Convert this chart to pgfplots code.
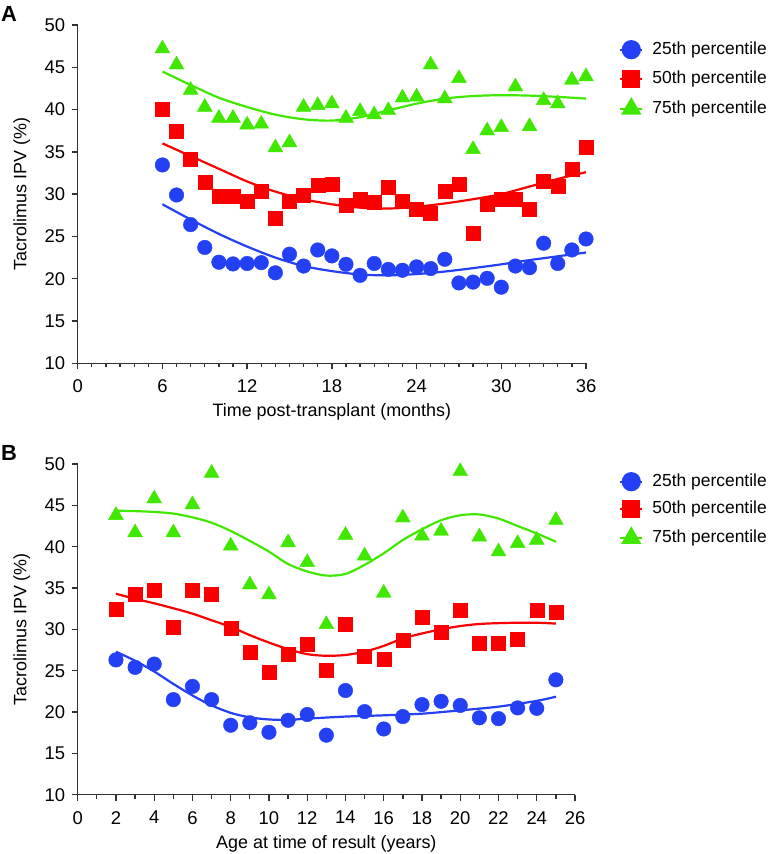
\documentclass[border=0pt]{standalone}
\usepackage{fontspec}
\setmainfont{Liberation Sans}
\usepackage{pgfplots}
\pgfplotsset{compat=1.18}
\definecolor{cB}{RGB}{36,64,245}
\definecolor{cR}{RGB}{250,0,0}
\definecolor{cG}{RGB}{64,232,0}
\definecolor{axc}{RGB}{50,50,50}
\pgfplotsset{
 myaxis/.style={
  scale only axis, clip=false, enlargelimits=false,
  axis x line*=bottom, axis y line*=left,
  axis line style={axc, line width=1.3bp},
  every tick/.style={axc, line width=1.3bp},
  major tick length=6bp, minor tick length=4bp,
  tick align=outside,
  ymin=10, ymax=50, ytick={10,15,...,50},
  /pgf/number format/assume math mode=true,
  ticklabel style={font=\fontsize{18.5}{20}\selectfont, text=black},
  label style={font=\fontsize{18}{20}\selectfont},
  ylabel={Tacrolimus IPV (\%)},
  ylabel style={at={([xshift=-56bp]axis description cs:0,0.5)}, anchor=center},
  xlabel style={at={([yshift=-48.8bp]axis description cs:0.5,0)}, anchor=center},
  xticklabel style={yshift=-7bp},
  yticklabel style={xshift=-3bp},
  legend style={draw=none, fill=none, anchor=north west, at={(1,1)},
    font=\fontsize{17.5}{20}\selectfont, column sep=9bp, inner sep=0pt,
    nodes={inner sep=0pt, text height=12.5bp, text depth=3.5bp}},
  legend cell align=left,
  legend image code/.code={\draw[mark repeat=2,mark phase=2,##1] plot coordinates {(0bp,0bp) (11bp,0bp) (22bp,0bp)};},
  fitline/.style={line width=2.2bp, smooth, no marks, forget plot},
  pB/.style={only marks, mark=*, mark size=7.3bp, cB, forget plot},
  pR/.style={only marks, mark=square*, mark size=7bp, cR, forget plot},
  pG/.style={only marks, mark=triangle*, mark size=8.6bp, cG, forget plot},
 }
}
\begin{document}
\begin{tikzpicture}
\useasboundingbox (0,0) rectangle (769bp,854bp);
\node[font=\bfseries\fontsize{22}{24}\selectfont] at (9bp,840.5bp) {A};
\node[font=\bfseries\fontsize{22}{24}\selectfont] at (9bp,401.5bp) {B};
% Panel A
\begin{axis}[myaxis, at={(77.7bp,490.7bp)}, anchor=south west,
  width=508.3bp, height=338.3bp,
  xmin=0, xmax=36, xtick={0,6,...,36}, minor x tick num=5,
  xlabel={Time post-transplant (months)},
  legend style={xshift=33bp, yshift=-16bp, row sep=12.5bp}]
\addplot[fitline, cG] coordinates {(6,44.5) (8,42.9) (10,41.4) (12,40.3) (14,39.4) (16,38.85) (18,38.7) (20,39.1) (22,39.9) (24,40.7) (26,41.3) (28,41.6) (30,41.7) (32,41.65) (34,41.5) (36,41.3)};
\addplot[fitline, cR] coordinates {(6,36.0) (8,34.5) (10,33.0) (12,31.5) (14,30.3) (16,29.4) (18,28.8) (20,28.4) (22,28.3) (24,28.5) (26,28.9) (28,29.4) (30,30.0) (32,30.9) (34,31.8) (36,32.6)};
\addplot[fitline, cB] coordinates {(6,28.8) (8,27.0) (10,25.3) (12,23.8) (14,22.5) (16,21.5) (18,20.9) (20,20.5) (22,20.4) (24,20.55) (26,20.85) (28,21.25) (30,21.7) (32,22.2) (34,22.65) (36,23.1)};
\addplot[pB] coordinates {(6,33.45) (7,29.9) (8,26.4) (9,23.7) (10,21.95) (11,21.75) (12,21.8) (13,21.9) (14,20.7) (15,22.9) (16,21.5) (17,23.4) (18,22.7) (19,21.7) (20,20.4) (21,21.8) (22,21.1) (23,21.0) (24,21.4) (25,21.2) (26,22.3) (27,19.5) (28,19.6) (29,20.05) (30,19.0) (31,21.5) (32,21.3) (33,24.2) (34,21.8) (35,23.4) (36,24.7)};
\addplot[pR] coordinates {(6,40.0) (7,37.4) (8,34.1) (9,31.4) (10,29.7) (11,29.7) (12,29.2) (13,30.3) (14,27.1) (15,29.2) (16,29.9) (17,31.0) (18,31.2) (19,28.7) (20,29.4) (21,29.1) (22,30.8) (23,29.2) (24,28.2) (25,27.7) (26,30.3) (27,31.2) (28,25.4) (29,28.8) (30,29.4) (31,29.4) (32,28.2) (33,31.5) (34,30.9) (35,33.0) (36,35.5)};
\addplot[pG] coordinates {(6,47.2) (7,45.3) (8,42.3) (9,40.3) (10,39.0) (11,39.0) (12,38.2) (13,38.3) (14,35.5) (15,36.1) (16,40.3) (17,40.5) (18,40.7) (19,39.0) (20,39.8) (21,39.4) (22,39.9) (23,41.4) (24,41.5) (25,45.3) (26,41.3) (27,43.7) (28,35.3) (29,37.5) (30,37.9) (31,42.7) (32,38.0) (33,41.1) (34,40.7) (35,43.5) (36,43.9)};
\addlegendimage{cB, line width=2.2bp, mark=*, mark size=8.5bp}
\addlegendentry{25th percentile}
\addlegendimage{cR, line width=2.2bp, mark=square*, mark size=8bp}
\addlegendentry{50th percentile}
\addlegendimage{cG, line width=2.2bp, mark=triangle*, mark size=9.5bp}
\addlegendentry{75th percentile}
\end{axis}
% Panel B
\begin{axis}[myaxis, at={(77.7bp,59.3bp)}, anchor=south west,
  width=497.3bp, height=330.7bp,
  xmin=0, xmax=26, xtick={0,2,...,26}, minor x tick num=1,
  xlabel={Age at time of result (years)},
  legend style={xshift=44bp, yshift=-9bp, row sep=11.2bp}]
\addplot[fitline, cG] coordinates {(2,44.35) (3,44.3) (4,44.2) (5,44.0) (6,43.55) (7,42.9) (8,41.9) (9,40.7) (10,39.4) (11,37.9) (12,37.0) (13,36.5) (14,36.7) (15,37.8) (16,39.2) (17,40.8) (18,42.1) (19,43.2) (20,43.8) (21,43.9) (22,43.4) (23,42.5) (24,41.6) (25,40.6)};
\addplot[fitline, cR] coordinates {(2,34.3) (3,33.7) (4,33.15) (5,32.55) (6,31.9) (7,31.1) (8,30.3) (9,29.3) (10,28.4) (11,27.6) (12,27.0) (13,26.8) (14,26.9) (15,27.3) (16,28.0) (17,28.9) (18,29.5) (19,30.0) (20,30.4) (21,30.65) (22,30.75) (23,30.8) (24,30.8) (25,30.7)};
\addplot[fitline, cB] coordinates {(2,27.3) (3,26.2) (4,24.9) (5,23.4) (6,22.0) (7,20.8) (8,19.9) (9,19.35) (10,19.1) (11,19.05) (12,19.2) (14,19.45) (16,19.6) (18,19.8) (20,20.2) (22,20.65) (24,21.35) (25,21.85)};
\addplot[pB] coordinates {(2,26.3) (3,25.4) (4,25.8) (5,21.5) (6,23.1) (7,21.5) (8,18.4) (9,18.7) (10,17.55) (11,19.0) (12,19.7) (13,17.2) (14,22.6) (15,20.05) (16,17.95) (17,19.45) (18,20.9) (19,21.3) (20,20.8) (21,19.3) (22,19.2) (23,20.5) (24,20.45) (25,23.9)};
\addplot[pR] coordinates {(2,32.4) (3,34.2) (4,34.7) (5,30.25) (6,34.7) (7,34.2) (8,30.1) (9,27.2) (10,24.8) (11,26.95) (12,28.2) (13,25.1) (14,30.6) (15,26.8) (16,26.4) (17,28.7) (18,31.5) (19,29.7) (20,32.35) (21,28.3) (22,28.3) (23,28.8) (24,32.35) (25,32.1)};
\addplot[pG] coordinates {(2,43.8) (3,41.7) (4,45.8) (5,41.7) (6,45.1) (7,48.9) (8,40.1) (9,35.4) (10,34.2) (11,40.5) (12,38.1) (13,30.6) (14,41.4) (15,38.9) (16,34.4) (17,43.5) (18,41.3) (19,41.9) (20,49.1) (21,41.2) (22,39.4) (23,40.4) (24,40.8) (25,43.2)};
\addlegendimage{cB, line width=2.2bp, mark=*, mark size=8.5bp}
\addlegendentry{25th percentile}
\addlegendimage{cR, line width=2.2bp, mark=square*, mark size=8bp}
\addlegendentry{50th percentile}
\addlegendimage{cG, line width=2.2bp, mark=triangle*, mark size=9.5bp}
\addlegendentry{75th percentile}
\end{axis}
\end{tikzpicture}
\end{document}
